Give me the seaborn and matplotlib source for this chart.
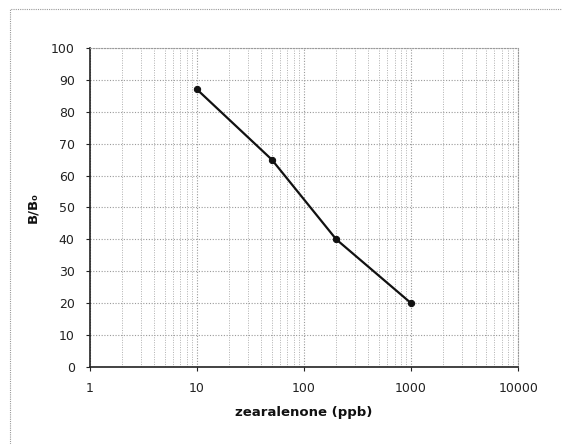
import matplotlib
matplotlib.use("Agg")
import matplotlib.pyplot as plt
import seaborn as sns
import pandas as pd
from matplotlib.ticker import FixedLocator, FixedFormatter, LogLocator, NullFormatter
from matplotlib.patches import Rectangle

concentration = [10, 50, 200, 1000]
b_over_b0 = [87, 65, 40, 20]
x_ticks = [1, 10, 100, 1000, 10000]
x_tick_labels = ["1", "10", "100", "1000", "10000"]
y_ticks = list(range(0, 101, 10))

sns.set_theme(style="white")
plt.rcParams['font.family'] = ['DejaVu Sans']

df = pd.DataFrame({"conc": concentration, "bb0": b_over_b0})

fig = plt.figure(figsize=(5.62, 4.44), dpi=100)
ax = fig.add_axes([0.160, 0.1734, 0.762, 0.7186])

sns.lineplot(data=df, x="conc", y="bb0", ax=ax, color="#111111", linewidth=1.6,
             marker="o", markersize=4.5, markeredgecolor="#111111", markerfacecolor="#111111")

ax.set_xscale("log")
ax.set_xlim(1, 10000)
ax.set_ylim(0, 100)
ax.xaxis.set_major_locator(FixedLocator(x_ticks))
ax.xaxis.set_major_formatter(FixedFormatter(x_tick_labels))
ax.xaxis.set_minor_locator(LogLocator(base=10, subs=range(2, 10)))
ax.xaxis.set_minor_formatter(NullFormatter())
ax.set_yticks(y_ticks)

ax.grid(True, which="major", axis="both", color="#9a9a9a", linestyle=(0, (1, 1.5)), linewidth=0.8)
ax.grid(True, which="minor", axis="x", color="#b0b0b0", linestyle=(0, (1, 1.5)), linewidth=0.7)

for s in ["top", "right"]:
    ax.spines[s].set_color("#9a9a9a")
    ax.spines[s].set_linestyle((0, (1, 1.5)))
    ax.spines[s].set_linewidth(0.8)
for s in ["left", "bottom"]:
    ax.spines[s].set_color("#222222")
    ax.spines[s].set_linewidth(1.2)

ax.tick_params(axis="both", which="major", labelsize=9, colors="#222222", length=3, width=0.8,
               direction="out", left=True, bottom=True)
ax.tick_params(axis="x", which="minor", length=0)
ax.tick_params(axis="x", pad=8)
ax.tick_params(axis="y", pad=8)

ax.set_xlabel("zearalenone (ppb)", fontsize=9.5, fontweight="bold", color="#111111", labelpad=8)
ax.set_ylabel("B/B₀", fontsize=9.5, fontweight="bold", color="#111111", labelpad=8)

border = Rectangle((10 / 562, -0.05), 1.2, 1 - 9 / 444 + 0.05, transform=fig.transFigure,
                   fill=False, edgecolor="#999999", linestyle=(0, (1, 1)), linewidth=0.8)
fig.patches.append(border)

fig.savefig("out.png", dpi=100)
